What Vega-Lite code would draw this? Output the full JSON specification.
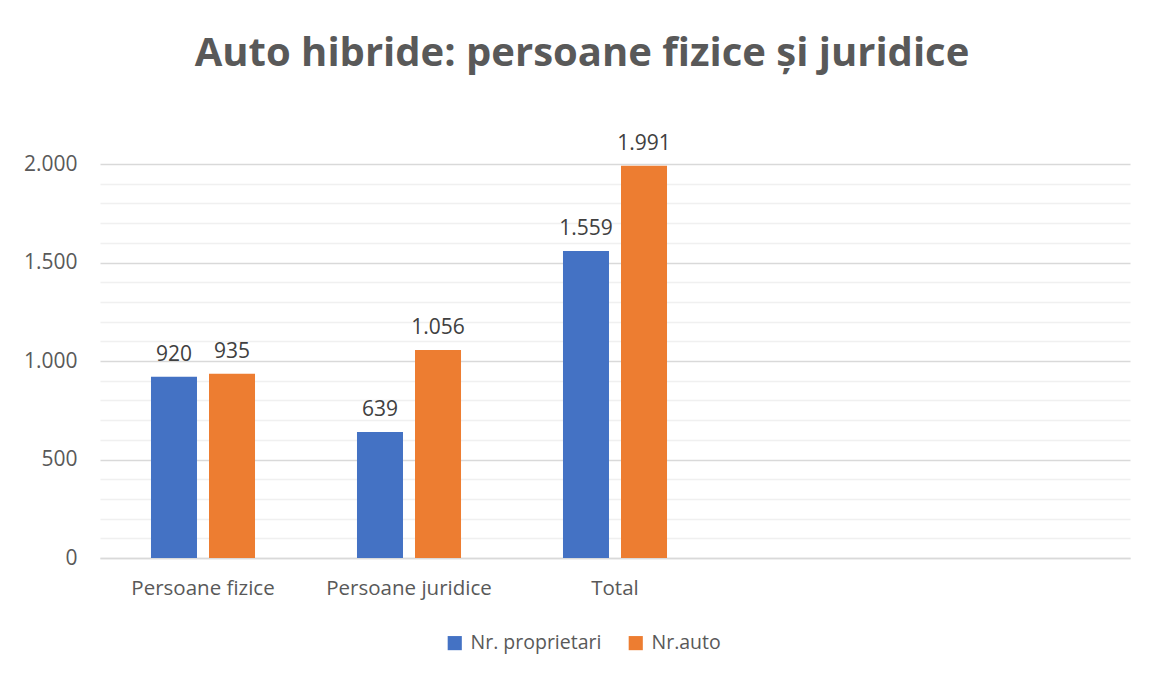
{
  "$schema": "https://vega.github.io/schema/vega-lite/v6.json",
  "width": 1030,
  "height": 394,
  "autosize": {"type": "none"},
  "padding": {"left": 100, "top": 164, "right": 24, "bottom": 119},
  "background": "white",
  "title": {
    "text": "Auto hibride: persoane fizice și juridice",
    "font": "Open Sans",
    "fontWeight": "bold",
    "fontSize": 40,
    "color": "#595959",
    "anchor": "middle",
    "frame": "group",
    "dx": -33,
    "offset": 59
  },
  "config": {
    "locale": {
      "number": {"decimal": ",", "thousands": ".", "grouping": [3], "currency": ["", " lei"]}
    },
    "view": {"stroke": null},
    "text": {"font": "Open Sans"}
  },
  "data": {
    "values": [
      {"categorie": "Persoane fizice", "serie": "Nr. proprietari", "valoare": 920},
      {"categorie": "Persoane fizice", "serie": "Nr.auto", "valoare": 935},
      {"categorie": "Persoane juridice", "serie": "Nr. proprietari", "valoare": 639},
      {"categorie": "Persoane juridice", "serie": "Nr.auto", "valoare": 1056},
      {"categorie": "Total", "serie": "Nr. proprietari", "valoare": 1559},
      {"categorie": "Total", "serie": "Nr.auto", "valoare": 1991}
    ]
  },
  "encoding": {
    "x": {
      "field": "categorie",
      "type": "nominal",
      "scale": {
        "domain": ["Persoane fizice", "Persoane juridice", "Total", "_4", "_5"],
        "paddingInner": 0.495,
        "paddingOuter": 0.2475
      },
      "axis": {
        "title": null,
        "labelAngle": 0,
        "labelExpr": "indexof(datum.label, '_') === 0 ? '' : datum.label",
        "labelFont": "Open Sans",
        "labelFontSize": 20.5,
        "labelColor": "#595959",
        "labelPadding": 20,
        "ticks": false,
        "domainColor": "#d9d9d9",
        "domainWidth": 1.5,
        "grid": false
      }
    },
    "xOffset": {
      "field": "serie",
      "type": "nominal",
      "sort": ["Nr. proprietari", "Nr.auto"],
      "scale": {"paddingInner": 0.207, "paddingOuter": 0}
    },
    "y": {
      "field": "valoare",
      "type": "quantitative",
      "scale": {"domain": [0, 2000], "nice": false},
      "axis": {
        "title": null,
        "values": [0, 100, 200, 300, 400, 500, 600, 700, 800, 900, 1000, 1100, 1200, 1300, 1400, 1500, 1600, 1700, 1800, 1900, 2000],
        "format": ",d",
        "labelExpr": "datum.value % 500 === 0 ? datum.label : ''",
        "labelOverlap": false,
        "labelFont": "Open Sans",
        "labelFontSize": 21,
        "labelColor": "#595959",
        "labelPadding": 23,
        "ticks": false,
        "domain": false,
        "gridColor": {"condition": {"test": "datum.value % 500 === 0", "value": "#d9d9d9"}, "value": "#f0f0f0"},
        "gridWidth": 1.5
      }
    }
  },
  "layer": [
    {
      "mark": {"type": "bar"},
      "encoding": {
        "color": {
          "field": "serie",
          "type": "nominal",
          "sort": ["Nr. proprietari", "Nr.auto"],
          "scale": {"domain": ["Nr. proprietari", "Nr.auto"], "range": ["#4472c4", "#ed7d31"]},
          "legend": {
            "title": null,
            "orient": "none",
            "direction": "horizontal",
            "legendX": 345,
            "legendY": 469,
            "symbolType": "square",
            "symbolSize": 200,
            "symbolStrokeWidth": 0,
            "labelFont": "Open Sans",
            "labelFontSize": 19.5,
            "labelColor": "#595959",
            "columnPadding": 24,
            "labelOffset": 6
          }
        }
      }
    },
    {
      "mark": {"type": "text", "baseline": "alphabetic", "dy": -16, "fontSize": 21, "color": "#404040"},
      "encoding": {
        "text": {"field": "valoare", "type": "quantitative", "format": ",d"}
      }
    }
  ]
}
